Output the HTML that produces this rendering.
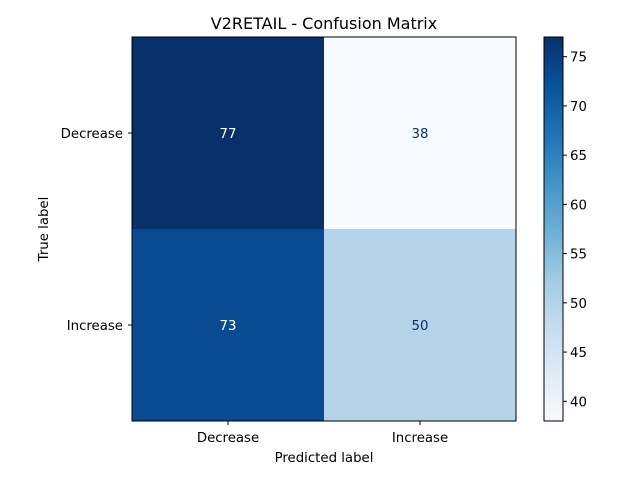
<!DOCTYPE html>
<html><head><meta charset="utf-8"><style>
body{margin:0;background:#fff}
svg{display:block;font-family:"DejaVu Sans","Liberation Sans",sans-serif}
</style></head><body>
<svg id="chart" width="640" height="480" viewBox="0 0 640 480">
<defs>
<linearGradient id="cbgrad" x1="0" y1="1" x2="0" y2="0">
<stop offset="0" stop-color="#f7fbff"/><stop offset="0.125" stop-color="#deebf7"/>
<stop offset="0.25" stop-color="#c6dbef"/><stop offset="0.375" stop-color="#9ecae1"/>
<stop offset="0.5" stop-color="#6baed6"/><stop offset="0.625" stop-color="#4292c6"/>
<stop offset="0.75" stop-color="#2171b5"/><stop offset="0.875" stop-color="#08519c"/>
<stop offset="1" stop-color="#08306b"/>
</linearGradient>
</defs>
<text x="324" y="29" font-size="16" text-anchor="middle">V2RETAIL - Confusion Matrix</text>
<g id="cells"></g>
<rect x="132" y="37" width="384" height="384" fill="none" stroke="#000" stroke-width="1"/>
<g id="axes"></g>
<text x="324" y="462" font-size="13.3" text-anchor="middle">Predicted label</text>
<text x="48" y="229" font-size="13.3" text-anchor="middle" transform="rotate(-90 48 229)">True label</text>
<rect x="544" y="37" width="19" height="384" fill="url(#cbgrad)" stroke="#000" stroke-width="1"/>
<g id="cbticks"></g>
</svg>
<script>
const classes = ["Decrease", "Increase"];
const matrix = [[77, 38], [73, 50]];
const cbTicks = [40, 45, 50, 55, 60, 65, 70, 75];

const NS = "http://www.w3.org/2000/svg";
const x0 = 132, y0 = 37, size = 384, cb = {x: 544, y: 37, w: 19, h: 384};
const flat = matrix.flat();
const vmin = Math.min(...flat), vmax = Math.max(...flat);
const stops = ["#f7fbff","#deebf7","#c6dbef","#9ecae1","#6baed6","#4292c6","#2171b5","#08519c","#08306b"];
function hex(c){return [1,3,5].map(i=>parseInt(c.substr(i,2),16));}
function color(v){
  let t=(v-vmin)/(vmax-vmin); t=Math.max(0,Math.min(1,t));
  const p=t*(stops.length-1), i=Math.min(Math.floor(p),stops.length-2), f=p-i;
  const a=hex(stops[i]), b=hex(stops[i+1]);
  return "rgb("+a.map((x,k)=>Math.round(x+(b[k]-x)*f)).join(",")+")";
}
function mk(tag, attrs, parent){const e=document.createElementNS(NS,tag);for(const k in attrs)e.setAttribute(k,attrs[k]);parent.appendChild(e);return e;}
const n = classes.length, cs = size/n;
const cells = document.getElementById("cells");
matrix.forEach((row,i)=>row.forEach((v,j)=>{
  const r = mk("rect",{x:x0+j*cs,y:y0+i*cs,width:cs,height:cs,fill:color(v)},cells);
  
  
  const t = mk("text",{x:x0+j*cs+cs/2,y:y0+i*cs+cs/2+5,"font-size":13.3,"text-anchor":"middle",fill:(v>(vmin+vmax)/2)?"#fff":"#08306b"},cells);
  t.textContent = v;
  
  
}));
const axes = document.getElementById("axes");
classes.forEach((c,k)=>{
  const cx = x0+k*cs+cs/2, cy = y0+k*cs+cs/2;
  mk("line",{x1:cx,x2:cx,y1:421,y2:425,stroke:"#000"},axes);
  const tx = mk("text",{x:cx,y:442,"font-size":13.3,"text-anchor":"middle"},axes);
  tx.textContent = c;
  
  
  mk("line",{x1:128,x2:132,y1:cy,y2:cy,stroke:"#000"},axes);
  const ty = mk("text",{x:123,y:cy+5,"font-size":13.3,"text-anchor":"end"},axes);
  ty.textContent = c;
  
  
});
const cbg = document.getElementById("cbticks");
cbTicks.forEach(v=>{
  const y = cb.y+cb.h-(v-vmin)/(vmax-vmin)*cb.h;
  mk("line",{x1:cb.x+cb.w,x2:cb.x+cb.w+4,y1:y,y2:y,stroke:"#000"},cbg);
  const t = mk("text",{x:cb.x+cb.w+7,y:y+5,"font-size":13.3},cbg);
  t.textContent = v;
  
  
});
</script>
</body></html>
